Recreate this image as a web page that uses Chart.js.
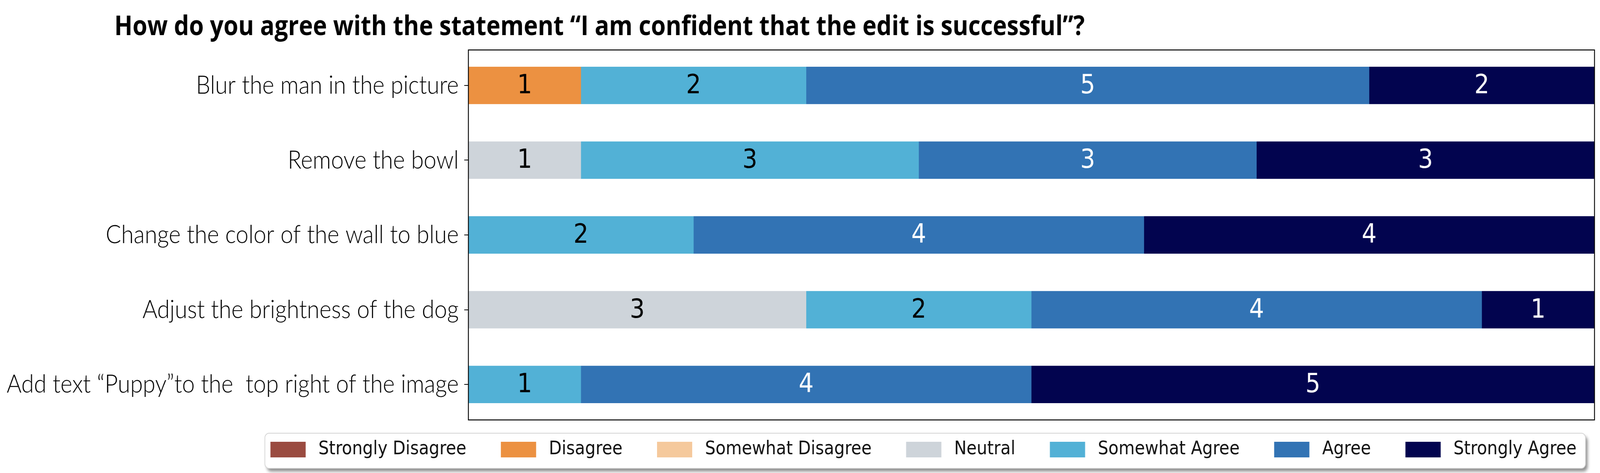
<!DOCTYPE html>
<html>
<head>
<meta charset="utf-8">
<script src="https://cdn.jsdelivr.net/npm/chart.js@4.4.0/dist/chart.umd.min.js"></script>
<style>
  html, body { margin: 0; padding: 0; background: #fff; overflow: hidden; }
  #likertChart { width: 100vw; height: 100vh; display: block; }
</style>
</head>
<body>
<canvas id="likertChart" width="4632" height="1212" style="width:100vw;height:100vh"></canvas>
<script>
// question + rows
const chartTitle = 'How do you agree with the statement “I am confident that the edit is successful”?';
const edits = [
  'Blur the man in the picture',
  'Remove the bowl',
  'Change the color of the wall to blue',
  'Adjust the brightness of the dog',
  'Add text “Puppy”to the  top right of the image'
];
const responses = ['Strongly Disagree', 'Disagree', 'Somewhat Disagree', 'Neutral', 'Somewhat Agree', 'Agree', 'Strongly Agree'];

// answer counts per edit (same order as edits)
const stronglyDisagree = [0, 0, 0, 0, 0];
const disagree         = [1, 0, 0, 0, 0];
const somewhatDisagree = [0, 0, 0, 0, 0];
const neutral          = [0, 1, 0, 3, 0];
const somewhatAgree    = [2, 3, 2, 2, 1];
const agree            = [5, 3, 4, 4, 4];
const stronglyAgree    = [2, 3, 4, 1, 5];

const colors = ['#9a4b40', '#ec9141', '#f5c99c', '#ced4da', '#52b1d6', '#3273b4', '#02044f'];
const textColors = ['#fff', '#000', '#000', '#000', '#000', '#fff', '#fff'];

const counts = [stronglyDisagree, disagree, somewhatDisagree, neutral, somewhatAgree, agree, stronglyAgree];

// legend swatch: blank lead (column spacing), colour box, small gap before the text
const swatchLead = 48, swatchW = 102, swatchH = 40, swatchTail = 13;
function makeSwatch(color) {
  const c = document.createElement('canvas');
  c.width = swatchLead + swatchW + swatchTail;
  c.height = swatchH;
  const g = c.getContext('2d');
  g.fillStyle = color;
  g.fillRect(swatchLead, 0, swatchW, swatchH);
  return c;
}
const swatches = colors.map(makeSwatch);

var datasets = [];
for (let i = 0; i < responses.length; i++) {
  datasets.push({
    label: responses[i],
    data: counts[i].map((v, j) => ({ x: v, y: j })),
    backgroundColor: colors[i],
    borderWidth: 0,
    barPercentage: 0.5,
    categoryPercentage: 1.0
  });
}

// title drawn at the left like the figure's suptitle
const titlePlugin = {
  id: 'leftTitle',
  afterDraw(chart) {
    const ctx = chart.ctx;
    ctx.save();
    ctx.font = '700 69px "Open Sans"';
    ctx.fillStyle = '#000';
    ctx.textBaseline = 'alphabetic';
    ctx.textAlign = 'left';
    ctx.fillText(chartTitle, 331, 90);
    ctx.restore();
  }
};

// black box round the plot area
const framePlugin = {
  id: 'frame',
  afterDatasetsDraw(chart) {
    const a = chart.chartArea;
    const ctx = chart.ctx;
    ctx.save();
    ctx.strokeStyle = '#000';
    ctx.lineWidth = 2.5;
    ctx.strokeRect(a.left, a.top, a.right - a.left, a.bottom - a.top);
    ctx.restore();
  }
};

// numbers in the middle of each segment
const valuePlugin = {
  id: 'segmentValues',
  afterDatasetsDraw(chart) {
    const ctx = chart.ctx;
    ctx.save();
    ctx.font = '68px "DejaVu Sans"';
    ctx.textAlign = 'center';
    ctx.textBaseline = 'alphabetic';
    chart.data.datasets.forEach((ds, i) => {
      const meta = chart.getDatasetMeta(i);
      meta.data.forEach((bar, j) => {
        const v = counts[i][j];
        if (!v) return;
        ctx.fillStyle = textColors[i];
        ctx.fillText(String(v), (bar.x + bar.base) / 2, bar.y + 20);
      });
    });
    ctx.restore();
  }
};

// rounded legend frame with a shadow, behind the legend items
const legendFramePlugin = {
  id: 'legendFrame',
  beforeDraw(chart) {
    const lg = chart.legend;
    if (!lg || !lg.legendHitBoxes || !lg.legendHitBoxes.length) return;
    const hb = lg.legendHitBoxes;
    let l = Infinity, r = -Infinity, t = Infinity, b = -Infinity;
    hb.forEach(h => {
      l = Math.min(l, h.left);
      r = Math.max(r, h.left + h.width);
      t = Math.min(t, h.top);
      b = Math.max(b, h.top + h.height);
    });
    l += swatchLead - 16; r += 26; t -= 18; b += 24;
    const ctx = chart.ctx;
    ctx.save();
    ctx.shadowColor = 'rgba(0,0,0,0.45)';
    ctx.shadowBlur = 8;
    ctx.shadowOffsetX = 6;
    ctx.shadowOffsetY = 8;
    ctx.fillStyle = '#fff';
    ctx.beginPath();
    ctx.roundRect(l, t, r - l, b - t, 12);
    ctx.fill();
    ctx.shadowColor = 'transparent';
    ctx.strokeStyle = '#d4d4d4';
    ctx.lineWidth = 2;
    ctx.stroke();
    ctx.restore();
  }
};

new Chart(document.getElementById('likertChart'), {
  type: 'bar',
  data: { datasets: datasets },
  options: {
    indexAxis: 'y',
    responsive: false,
    devicePixelRatio: 1,
    animation: false,
    layout: { padding: { left: 0, right: 16, top: 128, bottom: 26 } },
    scales: {
      x: { type: 'linear', stacked: true, min: 0, max: 10, display: false },
      y: {
        type: 'linear',
        stacked: true,
        reverse: true,
        offset: false,
        min: -0.475,
        max: edits.length - 1 + 0.475,
        afterBuildTicks: (scale) => { scale.ticks = edits.map((_, i) => ({ value: i })); },
        afterFit: (scale) => { scale.width = 1356; },
        ticks: {
          color: '#000',
          font: { family: 'Lato', size: 66, weight: 300 },
          padding: 16,
          callback: (v) => edits[v]
        },
        grid: { offset: false, drawOnChartArea: false, drawTicks: true, tickLength: 12, color: '#000', lineWidth: 2 },
        border: { display: false }
      }
    },
    plugins: {
      title: { display: false },
      tooltip: { enabled: false },
      legend: {
        position: 'bottom',
        align: 'end',
        labels: {
          color: '#111',
          font: { family: 'DejaVu Sans', size: 48 },
          usePointStyle: true,
          pointStyleWidth: swatchLead + swatchW + swatchTail,
          boxHeight: swatchH,
          padding: 52,
          generateLabels(chart) {
            const items = Chart.defaults.plugins.legend.labels.generateLabels(chart);
            items.forEach((it, i) => { it.pointStyle = swatches[i]; });
            return items;
          }
        }
      }
    }
  },
  plugins: [titlePlugin, framePlugin, valuePlugin, legendFramePlugin]
});
</script>
</body>
</html>
